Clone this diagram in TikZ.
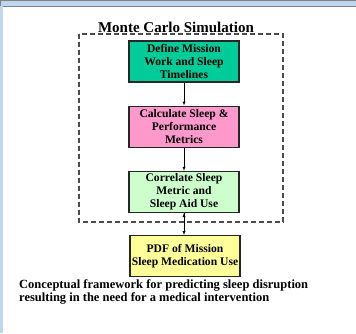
\documentclass[tikz,border=0pt]{standalone}
\usepackage{fontspec}
\setmainfont{Liberation Serif}
\usetikzlibrary{positioning, arrows}
\definecolor{seagreen}{RGB}{0,204,153}
\definecolor{pinkfill}{RGB}{255,153,204}
\definecolor{mintfill}{RGB}{204,255,204}
\definecolor{lemonfill}{RGB}{255,255,153}
\definecolor{winblue}{RGB}{190,215,238}
\tikzset{
  stepbox/.style={
    draw=black!85, line width=1.2pt, minimum width=110pt, minimum height=41pt,
    align=center, inner sep=1pt,
    font=\fontsize{11.6}{13}\selectfont\bfseries
  },
  -latex, node distance=23pt, thin
}

\begin{document}
\begin{tikzpicture}[x=1pt, y=1pt]
    \useasboundingbox (0,0) rectangle (356,-333);
    % window edge
    \fill[winblue, draw=gray] (0,0) rectangle (356,-6);
    \fill[winblue] (0,-6) rectangle (3,-333);

    \node[stepbox, fill=seagreen] (define) at (184,-61.5)
      {Define Mission\\Work and Sleep\\Timelines};
    \node[stepbox, fill=pinkfill, below = of define] (calc)
      {Calculate Sleep \&\\Performance\\Metrics};
    \node[stepbox, fill=mintfill, below = of calc] (correlate)
      {Correlate Sleep\\Metric and\\Sleep Aid Use};
    \node[stepbox, fill=lemonfill, below = 22pt of correlate, xshift=1pt] (pdf)
      {PDF of Mission\\Sleep Medication Use};

    \draw[-, dash pattern=on 5pt off 3pt, line width=1.4pt, black!70]
      (79,-34) rectangle (283,-222);
    \node[font=\fontsize{15}{17}\selectfont\bfseries, anchor=base] (title)
      at (176,-32) {Monte Carlo Simulation};

    \draw
      (define)    edge (calc)
      (calc)      edge (correlate)
      (correlate.south) edge (correlate.south |- pdf.north);

    \node[anchor=north west, align=left, inner sep=0pt,
      font=\fontsize{12.5}{13}\selectfont\bfseries] (caption) at (19,-279)
      {Conceptual framework for predicting sleep disruption\\
       resulting in the need for a medical intervention};
\end{tikzpicture}
\end{document}
